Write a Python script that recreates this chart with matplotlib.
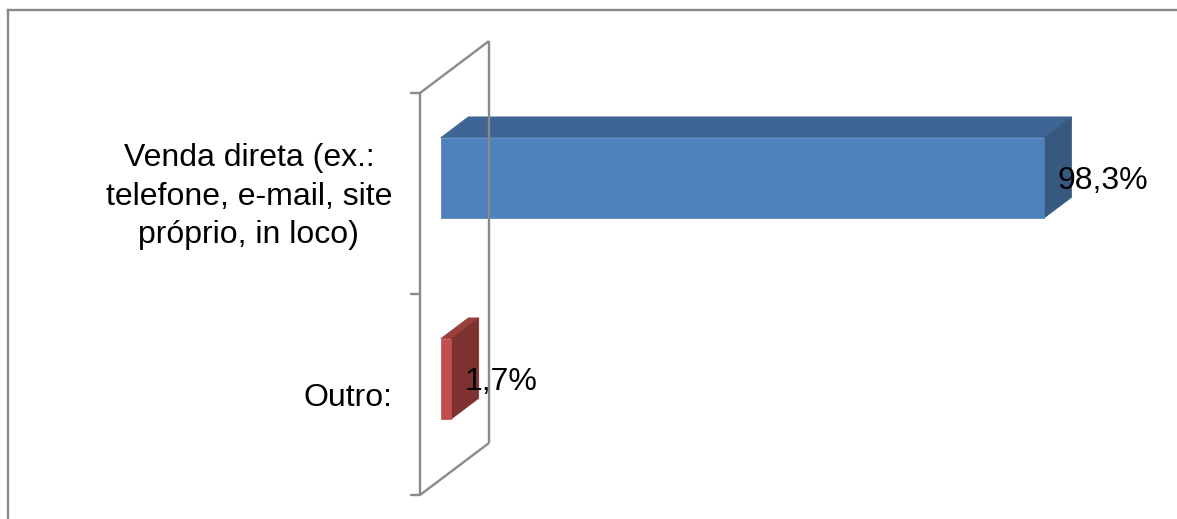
import matplotlib
matplotlib.use("Agg")
import matplotlib.pyplot as plt
from matplotlib.patches import Polygon
from matplotlib.lines import Line2D
from matplotlib.transforms import offset_copy

plt.rcParams['font.family'] = ['Liberation Sans', 'DejaVu Sans']

# ---- data ----
categories = ["Outro:", "Venda direta (ex.:\ntelefone, e-mail, site\npróprio, in loco)"]
values = [1.7, 98.3]
labels = ["1,7%", "98,3%"]
front_colors = ["#C0504D", "#4F81BD"]
top_colors = ["#9B3E3B", "#3E6594"]
side_colors = ["#7D3230", "#37587F"]

W, H = 1177, 519
DPI = 100
fig = plt.figure(figsize=(W / DPI, H / DPI), dpi=DPI)

PX_PER_UNIT = 6.137
ax_left, ax_bottom, ax_height = 420, 24, 402  # pixel geometry of the front wall
ax = fig.add_axes([ax_left / W, ax_bottom / H, (W - ax_left) / W, ax_height / H])
ax.set_xlim(0, (W - ax_left) / PX_PER_UNIT)
ax.set_ylim(-0.5, len(categories) - 0.5)
ax.axis("off")

# depth offset (full depth) in data units
DX = 69 / PX_PER_UNIT
DY = 52 / (ax_height / len(categories))


def pt(v, c, d):
    return (v + d * DX, c + d * DY)


wall_col = "#8A8A8A"
lw = 1.7
n = len(categories)
y0, y1 = -0.5, n - 0.5
# front axis line, back wall line, diagonals
for seg in [
    [pt(0, y0, 0), pt(0, y1, 0)],
    [pt(0, y0, 1), pt(0, y1, 1)],
    [pt(0, y1, 0), pt(0, y1, 1)],
    [pt(0, y0, 0), pt(0, y0, 1)],
]:
    xs, ys = zip(*seg)
    ax.plot(xs, ys, color=wall_col, lw=lw, clip_on=False, solid_capstyle="butt")
# tick marks on the category axis
for yb in [y0 + i for i in range(n + 1)]:
    ax.annotate("", xy=(0, yb), xytext=(-9, 0), textcoords="offset pixels",
                arrowprops=dict(arrowstyle="-", color=wall_col, lw=lw, shrinkA=0, shrinkB=0))

# bars
d0, d1 = 0.3, 0.7
hh = 0.2
for i, (v, fc, tc, sc) in enumerate(zip(values, front_colors, top_colors, side_colors)):
    c = i
    front = [pt(0, c - hh, d0), pt(v, c - hh, d0), pt(v, c + hh, d0), pt(0, c + hh, d0)]
    top = [pt(0, c + hh, d0), pt(v, c + hh, d0), pt(v, c + hh, d1), pt(0, c + hh, d1)]
    side = [pt(v, c - hh, d0), pt(v, c - hh, d1), pt(v, c + hh, d1), pt(v, c + hh, d0)]
    for poly, col in [(top, tc), (side, sc), (front, fc)]:
        ax.add_patch(Polygon(poly, closed=True, facecolor=col, edgecolor=col, lw=0.5, clip_on=False))
    lx, ly = pt(v, c, 0.5)[0], pt(v, c, d0)[1]
    ax.text(lx, ly, labels[i], ha="left", va="center_baseline", fontsize=23, color="black")

# category labels
lab_tr = offset_copy(ax.transData, fig=fig, x=-28, y=-3, units="dots")
for i, cat in enumerate(categories):
    ax.text(0, i, cat, transform=lab_tr, ha="right", va="center", multialignment="center",
            fontsize=23, color="black", linespacing=1.37)

# chart area border (partially visible)
fig.add_artist(Line2D([7.5 / W, 7.5 / W], [0, 1 - 9.5 / H], transform=fig.transFigure,
                      color="#888888", lw=1.7))
fig.add_artist(Line2D([7.5 / W, 1], [1 - 9.5 / H, 1 - 9.5 / H], transform=fig.transFigure,
                      color="#888888", lw=1.7))

fig.savefig("out.png", dpi=DPI)
